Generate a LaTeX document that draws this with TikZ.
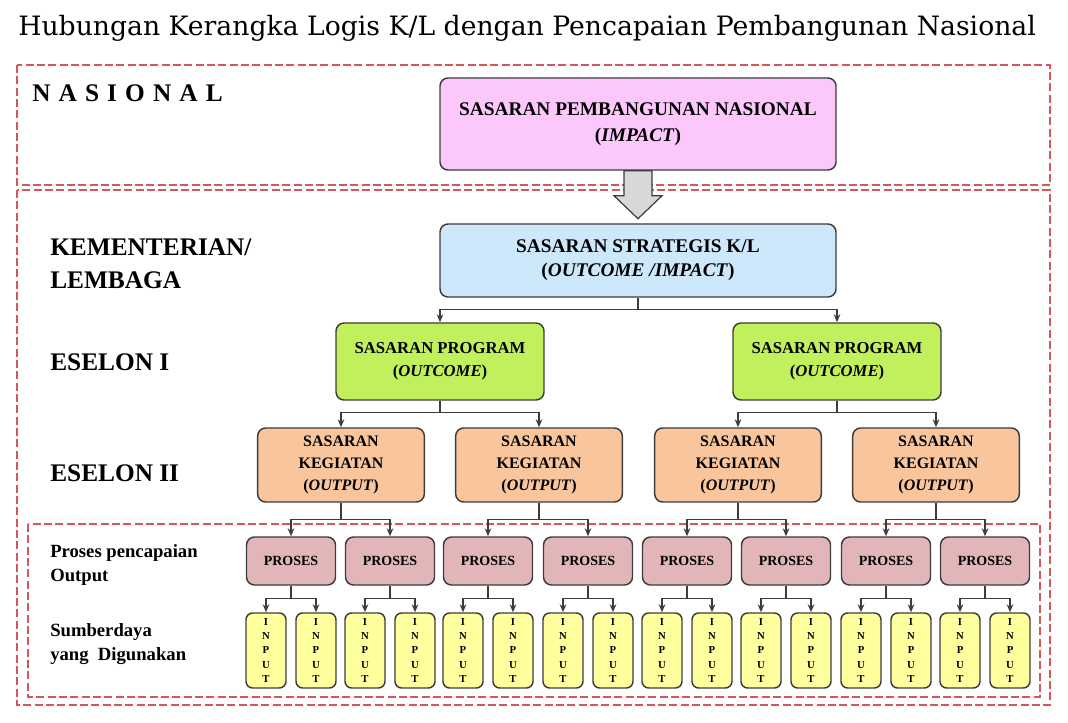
\documentclass[tikz,border=0pt]{standalone}
\usepackage{fontspec}
\setmainfont{Liberation Serif}
\newfontfamily\titlefont{DejaVu Serif}
\usetikzlibrary{arrows.meta,calc}
\definecolor{redd}{HTML}{D4585E}
\definecolor{boxline}{HTML}{3C3C3C}
\definecolor{pinkf}{HTML}{FCC8FC}
\definecolor{bluef}{HTML}{CCE8FA}
\definecolor{greenf}{HTML}{C2F05C}
\definecolor{orangef}{HTML}{F8C59C}
\definecolor{prosesf}{HTML}{E2B6B8}
\definecolor{inputf}{HTML}{FFFF9E}
\definecolor{arrowf}{HTML}{D8D8D8}
\tikzset{
  region/.style={draw=redd, line width=1.8pt, dash pattern=on 6pt off 2.5pt},
  boxbase/.style={draw=boxline, line width=1.1pt, rounded corners=6pt, align=center, inner sep=0pt, font=\bfseries},
  pinkbox/.style={boxbase, fill=pinkf, minimum width=297pt, minimum height=69pt, font=\bfseries\fontsize{14.5}{20}\selectfont},
  bluebox/.style={boxbase, fill=bluef, minimum width=297pt, minimum height=54.75pt, font=\bfseries\fontsize{14.5}{18}\selectfont},
  greenbox/.style={boxbase, fill=greenf, minimum width=156pt, minimum height=57.75pt, font=\bfseries\fontsize{12.5}{17}\selectfont},
  orangebox/.style={boxbase, fill=orangef, minimum width=125pt, minimum height=55.5pt, font=\bfseries\fontsize{12}{16.5}\selectfont},
  prosesbox/.style={boxbase, fill=prosesf, minimum width=66.75pt, minimum height=36pt, font=\bfseries\fontsize{10.5}{12}\selectfont},
  inputbox/.style={boxbase, fill=inputf, rounded corners=5pt, minimum width=30pt, minimum height=56.25pt, font=\bfseries\fontsize{8}{10.6}\selectfont},
  levellabel/.style={anchor=west, inner sep=0pt, align=left, font=\bfseries\fontsize{19}{25}\selectfont},
  smalllabel/.style={anchor=west, inner sep=0pt, align=left, font=\bfseries\fontsize{14}{18}\selectfont},
  conn/.style={draw=boxline, line width=1.1pt},
  arr/.style={conn, -{Stealth[length=6pt,width=5pt]}},
}
\begin{document}
\begin{tikzpicture}[x=0.75pt,y=-0.75pt]
\useasboundingbox (0,0) rectangle (1068,723);
% title
\node[anchor=west, inner sep=0pt] (title) at (18,28) {\titlefont\fontsize{20}{22}\selectfont Hubungan Kerangka Logis K/L dengan Pencapaian Pembangunan Nasional};
% regions
\draw[region] (17,65) rectangle (1050,185);
\draw[region] (17,190) rectangle (1050,705);
\draw[region] (28,524) rectangle (1040,697);
% labels
\node[levellabel] (nas) at (32,93) {\addfontfeature{LetterSpace=32}NASIONAL};
\node[levellabel] (kl) at (50,264) {KEMENTERIAN/\\LEMBAGA};
\node[levellabel] (es1) at (50,362) {ESELON I};
\node[levellabel] (es2) at (50,473) {ESELON II};
\node[smalllabel] (pro) at (50,565) {Proses pencapaian\\Output};
\node[smalllabel] (sum) at (50,644) {Sumberdaya\\yang~ Digunakan};
% main boxes
\node[pinkbox] (pink) at (638,124) {SASARAN PEMBANGUNAN NASIONAL\\(\textit{IMPACT})};
\node[bluebox] (blue) at (638,260.5) {SASARAN STRATEGIS K/L\\(\textit{OUTCOME /IMPACT})};
% block arrow
\draw[draw=boxline, line width=0.9pt, fill=arrowf]
  ($(pink.south)+(-14,0)$) -- ($(pink.south)+(14,0)$) -- ($(pink.south)+(14,25)$) -- ($(pink.south)+(24,25)$)
  -- ($(pink.south)+(0,48)$) -- ($(pink.south)+(-24,25)$) -- ($(pink.south)+(-14,25)$) -- cycle;
% green
\node[greenbox] (g1) at (440,361.5) {SASARAN PROGRAM\\(\textit{OUTCOME})};
\node[greenbox] (g2) at (837,361.5) {SASARAN PROGRAM\\(\textit{OUTCOME})};
\draw[conn] (blue.south) -- ++(0,12);
\draw[arr] (blue.south) ++(0,12) -| (g1.north);
\draw[arr] (blue.south) ++(0,12) -| (g2.north);
% orange
\foreach \i/\x in {1/341,2/539,3/738,4/936}{
  \node[orangebox] (o\i) at (\x,465) {SASARAN\\KEGIATAN\\(\textit{OUTPUT})};
}
\foreach \p/\a/\b in {g1/o1/o2, g2/o3/o4}{
  \draw[conn] (\p.south) -- ++(0,12);
  \draw[arr] (\p.south) ++(0,12) -| (\a.north);
  \draw[arr] (\p.south) ++(0,12) -| (\b.north);
}
% proses
\foreach \i/\x in {1/291,2/390,3/488,4/588,5/687,6/786,7/886,8/985}{
  \node[prosesbox] (p\i) at (\x,561) {PROSES};
  \node[inputbox] (i\i a) at (\x-25,650.5) {I\\N\\P\\U\\T};
  \node[inputbox] (i\i b) at (\x+25,650.5) {I\\N\\P\\U\\T};
  \draw[conn] (p\i.south) -- ++(0,13);
  \draw[arr] (p\i.south) ++(0,13) -| (i\i a.north);
  \draw[arr] (p\i.south) ++(0,13) -| (i\i b.north);
}
\foreach \o/\a/\b in {o1/p1/p2, o2/p3/p4, o3/p5/p6, o4/p7/p8}{
  \draw[conn] (\o.south) -- ++(0,17);
  \draw[arr] (\o.south) ++(0,17) -| (\a.north);
  \draw[arr] (\o.south) ++(0,17) -| (\b.north);
}
\end{tikzpicture}
\end{document}
